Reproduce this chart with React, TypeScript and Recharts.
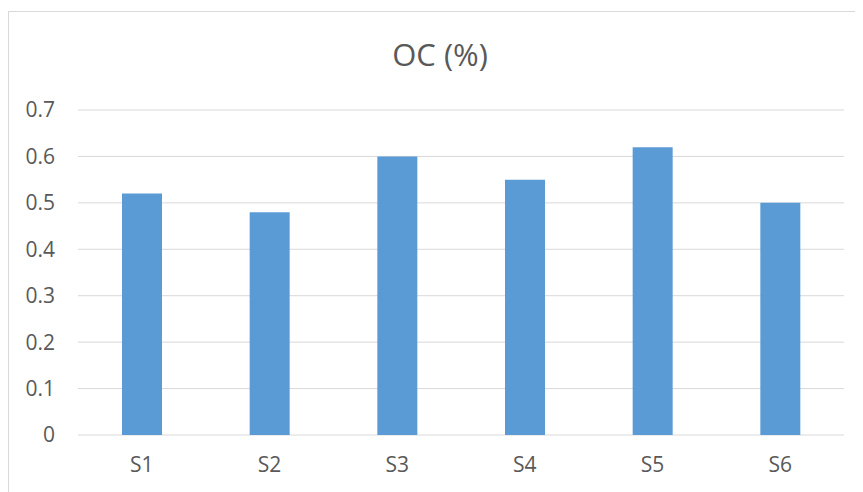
import { Bar, BarChart, CartesianGrid, XAxis, YAxis } from 'recharts';

const samples = ['S1', 'S2', 'S3', 'S4', 'S5', 'S6'];
const ocValues = [0.52, 0.48, 0.6, 0.55, 0.62, 0.5];
const yTicks = [0, 0.1, 0.2, 0.3, 0.4, 0.5, 0.6, 0.7];

const data = samples.map((name, i) => ({ name, oc: ocValues[i] }));

const FONT = '"Open Sans", sans-serif';
const TEXT = '#595959';
const GRID = '#d9d9d9';

export default function App() {
  return (
    <div style={{ paddingTop: 3 }}>
      <div
        style={{
          position: 'relative',
          width: 855,
          height: 481,
          boxSizing: 'border-box',
          borderLeft: `1px solid ${GRID}`,
          borderTop: `1px solid ${GRID}`,
          background: '#fff',
        }}
      >
        <div
          style={{
            position: 'absolute',
            left: 281,
            top: 22,
            width: 300,
            textAlign: 'center',
            fontFamily: FONT,
            fontSize: 31,
            lineHeight: '40px',
            color: TEXT,
          }}
        >
          OC (%)
        </div>
        <BarChart
          width={854}
          height={480}
          data={data}
          margin={{ top: 98, right: 19, left: 0, bottom: 0 }}
        >
          <CartesianGrid vertical={false} stroke={GRID} strokeWidth={1} />
          <XAxis
            dataKey="name"
            height={57}
            axisLine={false}
            tickLine={false}
            tickSize={6}
            tickMargin={16}
            tick={{ fill: TEXT, fontSize: 21, fontFamily: FONT }}
          />
          <YAxis
            width={69}
            domain={[0, 0.7]}
            ticks={yTicks}
            interval={0}
            axisLine={false}
            tickLine={false}
            tickSize={6}
            tickMargin={17}
            tickFormatter={(v: number) => (v === 0 ? '0' : String(v))}
            tick={{ fill: TEXT, fontSize: 21, fontFamily: FONT }}
          />
          <Bar dataKey="oc" fill="#5b9bd5" barSize={40} isAnimationActive={false} />
        </BarChart>
      </div>
    </div>
  );
}
